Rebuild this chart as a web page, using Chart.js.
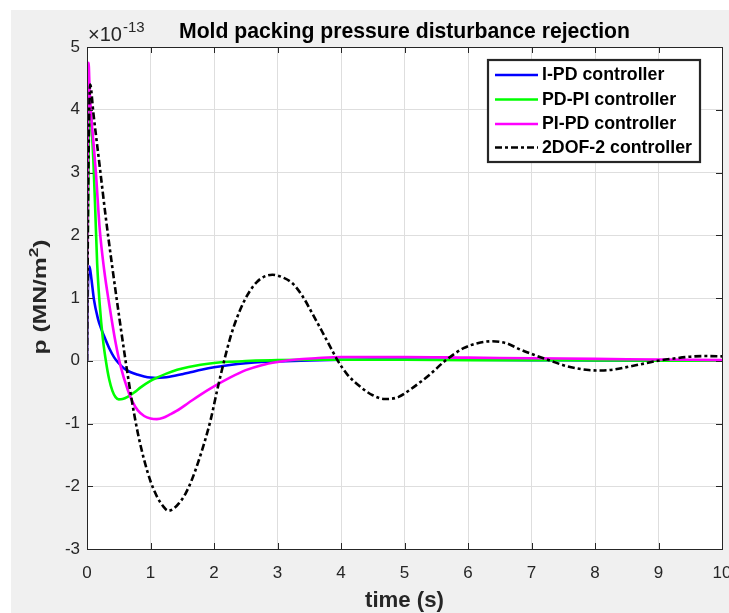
<!DOCTYPE html>
<html><head><meta charset="utf-8">
<script src="https://cdn.jsdelivr.net/npm/chart.js@4.4.1/dist/chart.umd.min.js"></script>
<style>html,body{margin:0;padding:0;background:#fff;overflow:hidden}</style>
</head><body>
<canvas id="c" width="729" height="613"></canvas>
<script>
// ---- data ----
const xTickValues = [0,1,2,3,4,5,6,7,8,9,10];
const yTickValues = [-3,-2,-1,0,1,2,3,4,5];
const seriesNames = ['I-PD controller','PD-PI controller','PI-PD controller','2DOF-2 controller'];

const tIPD = [0,0.01,0.025,0.04,0.07,0.11,0.17,0.22,0.27,0.35,0.43,0.5,0.58,0.68,0.79,0.9,1.0,1.1,1.2,1.3,1.5,1.65,1.8,2.0,2.25,2.5,2.75,3.0,3.5,4.0,4.5,5.0,6.0,7.0,8.0,9.0,10.0];
const vIPD = [0,0.9,1.45,1.5,1.3,0.97,0.68,0.52,0.39,0.2,0.05,-0.04,-0.12,-0.18,-0.22,-0.25,-0.268,-0.274,-0.268,-0.255,-0.215,-0.18,-0.145,-0.105,-0.068,-0.04,-0.02,-0.01,0.005,0.015,0.02,0.02,0.015,0.01,0.005,0,0];

const tPDPI = [0,0.01,0.03,0.05,0.08,0.1,0.13,0.16,0.2,0.25,0.3,0.35,0.4,0.45,0.5,0.56,0.64,0.75,0.85,1.0,1.1,1.25,1.42,1.6,1.79,2.0,2.25,2.5,3.0,3.5,4.0,5.0,6.0,7.0,8.0,9.0,10.0];
const vPDPI = [0,1.8,3.7,4.0,3.6,3.2,2.4,1.55,0.9,0.35,-0.02,-0.3,-0.48,-0.58,-0.615,-0.61,-0.575,-0.5,-0.42,-0.32,-0.27,-0.205,-0.145,-0.1,-0.065,-0.035,-0.015,-0.005,0.01,0.015,0.015,0.015,0.01,0.01,0.005,0,0];

const tPIPD = [0,0.01,0.025,0.04,0.07,0.1,0.14,0.2,0.27,0.35,0.45,0.53,0.64,0.72,0.8,0.9,1.0,1.1,1.2,1.3,1.41,1.6,1.79,2.0,2.25,2.5,2.75,3.0,3.3,3.6,4.0,5.0,6.0,7.0,8.0,9.0,10.0];
const vPIPD = [0,3.0,4.75,4.35,3.85,3.5,3.0,2.1,1.45,0.9,0.29,-0.09,-0.46,-0.66,-0.79,-0.88,-0.92,-0.93,-0.91,-0.86,-0.8,-0.67,-0.54,-0.41,-0.27,-0.15,-0.07,-0.02,0.02,0.04,0.06,0.06,0.05,0.04,0.03,0.02,0.01];

const t2DOF = [0,0.02,0.05,0.1,0.2,0.3,0.4,0.5,0.6,0.7,0.8,0.9,1.0,1.1,1.2,1.28,1.36,1.45,1.55,1.65,1.75,1.85,1.95,2.05,2.16,2.26,2.36,2.46,2.57,2.67,2.77,2.92,3.1,3.25,3.4,3.55,3.7,3.8,3.95,4.1,4.3,4.5,4.69,4.9,5.09,5.25,5.4,5.64,5.93,6.15,6.37,6.6,6.82,7.05,7.3,7.5,7.71,7.9,8.1,8.3,8.55,8.8,8.99,9.2,9.5,9.75,10];
const v2DOF = [0,2.8,4.4,3.95,3.1,2.25,1.48,0.75,0.05,-0.6,-1.15,-1.58,-1.92,-2.16,-2.32,-2.39,-2.36,-2.27,-2.12,-1.9,-1.62,-1.3,-0.93,-0.47,0,0.38,0.68,0.92,1.12,1.25,1.33,1.37,1.32,1.22,1.02,0.75,0.47,0.28,0,-0.22,-0.41,-0.55,-0.61,-0.58,-0.46,-0.34,-0.22,0,0.2,0.28,0.31,0.28,0.18,0.09,0,-0.07,-0.12,-0.148,-0.155,-0.14,-0.09,-0.04,0,0.03,0.065,0.075,0.07];

// ---- styles ----
const FF = "'Liberation Sans', Arial, Helvetica, sans-serif";
const TXT = '#262626';
const colors = ['#0000ff','#00ff00','#ff00ff','#000000'];
const dashPat = [7,3,3,3];
const LW = 2.6;

function pts(t, v){ return t.map((x,i)=>({x:x, y:v[i]})); }

const datasets = [
  {label:seriesNames[0], data:pts(tIPD,vIPD), borderColor:colors[0], order:4},
  {label:seriesNames[1], data:pts(tPDPI,vPDPI), borderColor:colors[1], order:3},
  {label:seriesNames[2], data:pts(tPIPD,vPIPD), borderColor:colors[2], order:2},
  {label:seriesNames[3], data:pts(t2DOF,v2DOF), borderColor:colors[3], borderDash:dashPat, order:1}
].map(d=>Object.assign({borderWidth:LW, pointRadius:0, fill:false, cubicInterpolationMode:'monotone'}, d));

function fitSize(ctx, text, weight, target){
  ctx.font = weight + ' 20px ' + FF;
  return 20 * target / ctx.measureText(text).width;
}

const deco = {
  id:'deco',
  beforeDraw(chart){
    const ctx = chart.ctx, a = chart.chartArea;
    ctx.save();
    ctx.fillStyle = '#ffffff'; ctx.fillRect(0,0,chart.width,chart.height);
    ctx.fillStyle = '#f0f0f0'; ctx.fillRect(11,10,chart.width-11,chart.height-10);
    ctx.fillStyle = '#ffffff'; ctx.fillRect(a.left,a.top,a.right-a.left,a.bottom-a.top);
    ctx.restore();
  },
  afterDraw(chart){
    const ctx = chart.ctx, a = chart.chartArea;
    const xs = chart.scales.x, ys = chart.scales.y;
    ctx.save();
    // box
    ctx.strokeStyle = TXT; ctx.lineWidth = 1;
    ctx.strokeRect(Math.round(a.left)+0.5, Math.round(a.top)+0.5, Math.round(a.right-a.left), Math.round(a.bottom-a.top));
    // inward tick marks
    ctx.beginPath();
    const tl = 6;
    xTickValues.forEach(v=>{ const px = Math.round(xs.getPixelForValue(v))+0.5;
      ctx.moveTo(px,a.bottom); ctx.lineTo(px,a.bottom-tl);
      ctx.moveTo(px,a.top); ctx.lineTo(px,a.top+tl); });
    yTickValues.forEach(v=>{ const py = Math.round(ys.getPixelForValue(v))+0.5;
      ctx.moveTo(a.left,py); ctx.lineTo(a.left+tl,py);
      ctx.moveTo(a.right,py); ctx.lineTo(a.right-tl,py); });
    ctx.stroke();

    ctx.fillStyle = '#000';
    // title
    const title = 'Mold packing pressure disturbance rejection';
    let s = fitSize(ctx, title, 'bold', 451);
    ctx.font = 'bold ' + s + 'px ' + FF;
    ctx.textAlign = 'center'; ctx.textBaseline = 'alphabetic';
    ctx.fillText(title, (a.left+a.right)/2, 38);

    // exponent
    ctx.fillStyle = TXT;
    ctx.textAlign = 'left';
    s = fitSize(ctx, '\u00d710', 'normal', 34);
    ctx.font = s + 'px ' + FF;
    ctx.fillText('\u00d710', 88, 41);
    ctx.font = (s*0.75) + 'px ' + FF;
    ctx.fillText('-13', 123, 32);

    // x label
    ctx.fillStyle = TXT;
    s = fitSize(ctx, 'time (s)', 'bold', 79);
    ctx.font = 'bold ' + s + 'px ' + FF;
    ctx.textAlign = 'center';
    ctx.fillText('time (s)', (a.left+a.right)/2, 607);

    // y label (rotated) with superscript, slightly condensed along text
    ctx.save();
    ctx.translate(46, 297);
    ctx.rotate(-Math.PI/2);
    const p1 = 'p (MN/m', p2 = '2', p3 = ')';
    s = 18;
    ctx.font = 'bold ' + s + 'px ' + FF;
    const w1 = ctx.measureText(p1).width, w3 = ctx.measureText(p3).width;
    ctx.font = 'bold ' + (s*0.7) + 'px ' + FF;
    const w2 = ctx.measureText(p2).width;
    const total = w1+w2+w3;
    const sx = 115/total;
    ctx.scale(sx, 1);
    let x0 = -total/2;
    ctx.textAlign = 'left';
    ctx.font = 'bold ' + s + 'px ' + FF;
    ctx.fillText(p1, x0, 0);
    ctx.font = 'bold ' + (s*0.7) + 'px ' + FF;
    ctx.fillText(p2, x0+w1, -s*0.42);
    ctx.font = 'bold ' + s + 'px ' + FF;
    ctx.fillText(p3, x0+w1+w2, 0);
    ctx.restore();

    // legend
    const L = {x:488, y:60, w:212, h:102};
    ctx.fillStyle = '#fff';
    ctx.fillRect(L.x, L.y, L.w, L.h);
    ctx.strokeStyle = TXT; ctx.lineWidth = 2.2;
    ctx.strokeRect(L.x, L.y, L.w, L.h);
    const rows = [75, 99.5, 124, 147.5];
    s = fitSize(ctx, '2DOF-2 controller', 'bold', 150);
    seriesNames.forEach((n,i)=>{
      ctx.beginPath();
      ctx.strokeStyle = colors[i]; ctx.lineWidth = LW;
      ctx.setLineDash(i===3 ? dashPat : []);
      ctx.moveTo(495, rows[i]); ctx.lineTo(538, rows[i]); ctx.stroke();
      ctx.setLineDash([]);
      ctx.fillStyle = '#000';
      ctx.font = 'bold ' + s + 'px ' + FF;
      ctx.textAlign = 'left'; ctx.textBaseline = 'middle';
      ctx.fillText(n, 542, rows[i]+0.5);
    });
    ctx.restore();
  }
};

new Chart(document.getElementById('c'), {
  type:'line',
  data:{datasets:datasets},
  options:{
    responsive:false, animation:false, devicePixelRatio:1,
    layout:{padding:{top:47, right:7, left:0, bottom:0}},
    plugins:{legend:{display:false}, title:{display:false}, tooltip:{enabled:false}},
    scales:{
      x:{type:'linear', min:0, max:10,
        afterBuildTicks:(sc)=>{ sc.ticks = xTickValues.map(v=>({value:v})); },
        afterFit:(sc)=>{ sc.height = 64; sc.paddingLeft = 0; sc.paddingRight = 0; },
        grid:{color:'#dedede', lineWidth:1, drawTicks:false},
        border:{display:false},
        ticks:{color:TXT, font:{family:FF, size:17}, padding:14, maxRotation:0, autoSkip:false}
      },
      y:{type:'linear', min:-3, max:5,
        afterBuildTicks:(sc)=>{ sc.ticks = yTickValues.map(v=>({value:v})); },
        afterFit:(sc)=>{ sc.width = 87; sc.paddingTop = 0; sc.paddingBottom = 0; },
        grid:{color:'#dedede', lineWidth:1, drawTicks:false},
        border:{display:false},
        ticks:{color:TXT, font:{family:FF, size:17}, padding:7, autoSkip:false}
      }
    }
  },
  plugins:[deco]
});
</script>
</body></html>
